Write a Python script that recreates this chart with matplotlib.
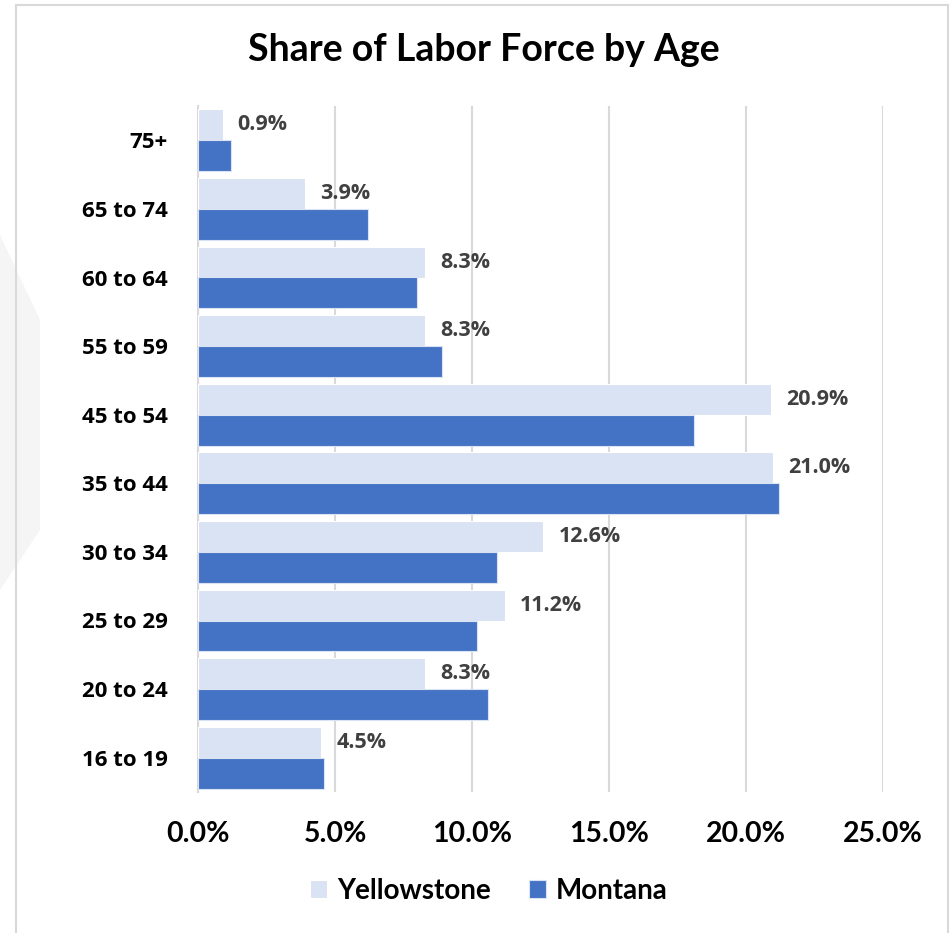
import matplotlib.pyplot as plt
import numpy as np
from matplotlib.patches import Polygon
from matplotlib.lines import Line2D

# categorias (de baixo para cima)
categorias = ['16 to 19', '20 to 24', '25 to 29', '30 to 34', '35 to 44',
              '45 to 54', '55 to 59', '60 to 64', '65 to 74', '75+']
yellowstone = [4.5, 8.3, 11.2, 12.6, 21.0, 20.9, 8.3, 8.3, 3.9, 0.9]
montana = [4.6, 10.6, 10.2, 10.9, 21.2, 18.1, 8.9, 8.0, 6.2, 1.2]
ticks_x = [0, 5, 10, 15, 20, 25]

cor_ys = '#DAE3F3'
cor_mt = '#4472C4'

W, H = 951, 933
fig = plt.figure(figsize=(W / 100, H / 100), dpi=100)

# mancha cinza clara no canto esquerdo e moldura
def px(x, y):
    return (x / W, 1 - y / H)

fig.patches.append(Polygon([px(0, 235), px(40, 320), px(40, 530), px(0, 590)],
                           closed=True, transform=fig.transFigure,
                           facecolor='#f5f5f5', edgecolor='none', zorder=0))
fig.lines.append(Line2D([15.5 / W, 15.5 / W], [0, 1 - 5 / H], transform=fig.transFigure,
                        color='#d9d9d9', lw=1.5))
fig.lines.append(Line2D([15.5 / W, 948 / W], [1 - 5 / H, 1 - 5 / H], transform=fig.transFigure,
                        color='#d9d9d9', lw=1.5))
fig.lines.append(Line2D([948 / W, 948 / W], [0, 1 - 5 / H], transform=fig.transFigure,
                        color='#d9d9d9', lw=1.5))

ax = fig.add_axes([198 / W, 141 / H, 685 / W, 686 / H])

pos = np.arange(len(categorias))
h = 0.45
ax.barh(pos + h / 2, yellowstone, height=h, color=cor_ys, edgecolor='white', linewidth=0.8,
        label='Yellowstone', zorder=3)
ax.barh(pos - h / 2, montana, height=h, color=cor_mt, edgecolor='#dae3f3', linewidth=0.8,
        label='Montana', zorder=3)

for p, v in zip(pos, yellowstone):
    ax.text(v + 0.55, p + h / 2, f'{v:.1f}%', va='center', ha='left',
            fontsize=15.5, fontweight='bold', color='#404040', family='Open Sans')

ax.set_xlim(0, 25)
ax.set_ylim(-0.5, 9.5)
ax.set_xticks(ticks_x)
ax.set_xticklabels([f'{t:.1f}%' for t in ticks_x], fontsize=20.5, fontweight='bold',
                   family='Lato')
ax.set_yticks(pos)
ax.set_yticklabels(categorias, fontsize=16, fontweight='bold', family='Open Sans')
ax.tick_params(axis='both', length=0)
ax.tick_params(axis='x', pad=21)
ax.tick_params(axis='y', pad=22)
ax.grid(axis='x', color='#d9d9d9', linewidth=1.5, zorder=0)
for s in ['top', 'right', 'bottom']:
    ax.spines[s].set_visible(False)
ax.spines['left'].set_color('#d9d9d9')
ax.spines['left'].set_linewidth(1.5)

fig.suptitle('Share of Labor Force by Age', x=484 / W, y=1 - 50 / H, va='center',
             fontsize=27, fontweight='bold', family='Lato')

handles, labels = ax.get_legend_handles_labels()
fig.legend(handles, labels, loc='center', bbox_to_anchor=(489 / W, 1 - 891 / H), ncol=2,
           frameon=False, prop={'family': 'Lato', 'weight': 'bold', 'size': 20},
           handlelength=0.6, handleheight=0.6, handletextpad=0.35, columnspacing=1.4)

fig.savefig('out.png', dpi=100, facecolor='white')
